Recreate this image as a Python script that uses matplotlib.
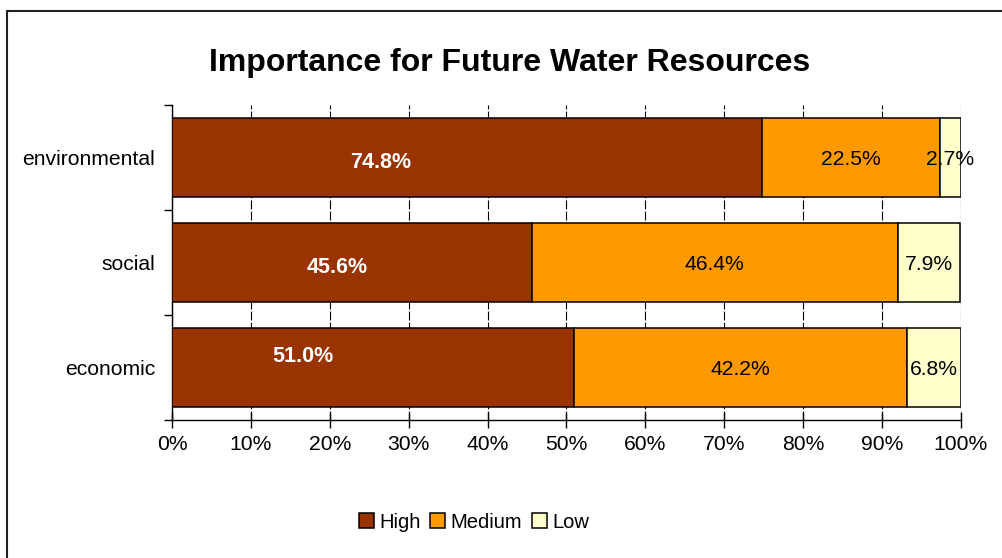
import matplotlib
matplotlib.use("Agg")
import matplotlib.pyplot as plt
from matplotlib.patches import Rectangle
import numpy as np

plt.rcParams['font.family'] = ['Liberation Sans', 'DejaVu Sans']

categories = ['environmental', 'social', 'economic']
high = [74.8, 45.6, 51.0]
medium = [22.5, 46.4, 42.2]
low = [2.7, 7.9, 6.8]
series_names = ['High', 'Medium', 'Low']
colors = ['#993300', '#FF9900', '#FFFFCC']
xticks = np.arange(0, 101, 10)

# where the white "High" labels were dragged to in the original
high_label_x = [26.4, 20.9, 16.6]
high_label_dy = [-5, -5, 11]

W, H = 1003, 558
fig = plt.figure(figsize=(W / 100, H / 100), dpi=100)
ax = fig.add_axes([172 / W, 1 - 420 / H, (961 - 172) / W, (420 - 105) / H])

# outer chart border (cut off at right and bottom)
fig.patches.append(Rectangle((7 / W, -0.1), 2, (H - 11) / H + 0.1,
                             transform=fig.transFigure, fill=False,
                             edgecolor='#222222', linewidth=1.5))

y = np.arange(len(categories))
left = np.zeros(len(categories))
for vals, name, c in zip([high, medium, low], series_names, colors):
    ax.barh(y, vals, left=left, height=0.76, color=c, edgecolor='black',
            linewidth=1.1, label=name, zorder=3)
    left = left + np.array(vals)

# labels
for i in range(len(categories)):
    ax.annotate(f'{high[i]:.1f}%', (high_label_x[i], y[i]), textcoords='offset points',
                xytext=(0, high_label_dy[i] * 0.72), ha='center', va='center',
                color='white', fontsize=15.5, fontweight='bold', zorder=5)
    ax.text(high[i] + medium[i] / 2, y[i] + 0.02, f'{medium[i]:.1f}%', ha='center',
            va='center', fontsize=15.2, zorder=5)
    ax.text(high[i] + medium[i] + low[i] / 2, y[i] + 0.02, f'{low[i]:.1f}%', ha='center',
            va='center', fontsize=15.2, zorder=5)

ax.set_xlim(0, 100)
ax.set_ylim(2.5, -0.5)
ax.set_xticks(xticks)
ax.set_xticklabels([f'{t}%' for t in xticks], fontsize=15.2)
ax.set_yticks(y)
ax.set_yticklabels(categories, fontsize=15.2)
ax.set_yticks(np.arange(-0.5, len(categories)), minor=True)
ax.tick_params(axis='y', which='major', length=0, pad=12)
ax.tick_params(axis='y', which='minor', length=6, width=1, direction='out')
ax.tick_params(axis='x', which='major', length=12, width=1, direction='inout', pad=5)
ax.xaxis.grid(True, color='black', linestyle=(0, (8, 2)), linewidth=0.8, zorder=0)
ax.set_axisbelow(True)
for s in ['top', 'right']:
    ax.spines[s].set_visible(False)
ax.spines['left'].set_linewidth(1)
ax.spines['bottom'].set_linewidth(1)

fig.text(510 / W, 1 - 63 / H, 'Importance for Future Water Resources', ha='center',
         va='center', fontsize=23, fontweight='bold')

fig.legend(loc='center', bbox_to_anchor=(474 / W, 1 - 522 / H), ncol=3, frameon=False,
           fontsize=14.5, handlelength=0.75, handleheight=0.75, handletextpad=0.25,
           columnspacing=0.5)

fig.savefig('out.png', dpi=100)
